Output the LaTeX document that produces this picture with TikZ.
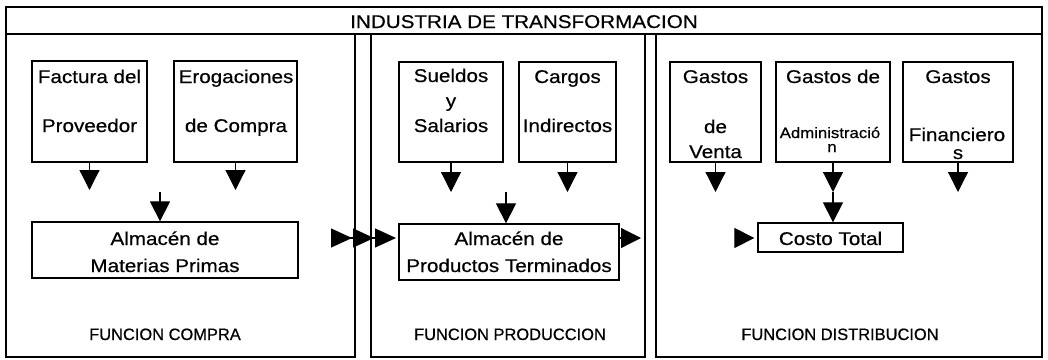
\documentclass[tikz,border=0pt]{standalone}
\usepackage{fontspec}
\setmainfont{Liberation Sans}[FakeStretch=1.12, FakeBold=0.5]
\newfontfamily\labfont{Liberation Sans}[FakeBold=0.6]
\usetikzlibrary{arrows.meta}
\begin{document}
\begin{tikzpicture}[x=1bp,y=-1bp,
  frame/.style={draw, line width=1.4bp},
  box/.style={draw, line width=1.3bp, inner sep=0, rectangle},
  txt/.style={inner sep=0, anchor=base, font=\fontsize{18.5}{20}\selectfont},
  smalltxt/.style={inner sep=0, anchor=base, font=\fontsize{15}{16}\selectfont},
  labtxt/.style={inner sep=0, anchor=base, font=\labfont\fontsize{16.5}{18}\selectfont},
  tri/.style={line width=1.2bp, -{Triangle[length=20bp,width=20bp]}},
  tritwo/.style={line width=1.2bp, shorten <=36bp, shorten >=2bp, -{Triangle[length=21bp,width=19bp,sep=1bp] Triangle[length=21bp,width=19bp,sep=1bp] Triangle[length=21bp,width=19bp,sep=1bp]}}
]
\useasboundingbox (0,0) rectangle (1048,359);
% frame
\node[frame, minimum width=1036bp, minimum height=27bp, inner sep=0] (title) at (524,20.5) {};
\node[frame, minimum width=349bp, minimum height=323bp, inner sep=0] (col1) at (180.5,195.5) {};
\node[frame, minimum width=274bp, minimum height=323bp, inner sep=0] (col2) at (508,195.5) {};
\node[frame, minimum width=386bp, minimum height=323bp, inner sep=0] (col3) at (849,195.5) {};
\node[txt] (titletxt) at (524,28) {INDUSTRIA DE TRANSFORMACION};
% column labels
\node[labtxt] (lab1) at (165,340) {FUNCION COMPRA};
\node[labtxt] (lab2) at (510,340) {FUNCION PRODUCCION};
\node[labtxt] (lab3) at (840,340) {FUNCION DISTRIBUCION};
% top boxes
\node[box, minimum width=115bp, minimum height=101bp] (fp) at (89.5,111.5) {};
\node[box, minimum width=123bp, minimum height=101bp] (ec) at (235.5,111.5) {};
\node[box, minimum width=104bp, minimum height=100bp] (sy) at (451,112) {};
\node[box, minimum width=97bp, minimum height=100bp] (ci) at (567.5,112) {};
\node[box, minimum width=91bp, minimum height=100bp] (gv) at (715.5,112) {};
\node[box, minimum width=114bp, minimum height=100bp] (ga) at (833,112) {};
\node[box, minimum width=110bp, minimum height=100bp] (gf) at (958,112) {};
% lower boxes
\node[box, minimum width=266bp, minimum height=56bp] (mp) at (165,250) {};
\node[box, minimum width=220bp, minimum height=56bp] (pt) at (509,252) {};
\node[box, minimum width=145bp, minimum height=29bp] (ct) at (830.5,237.5) {};
% texts
\node[txt] (fp1) at (89.5,83) {Factura del};
\node[txt] (fp2) at (89.5,132) {Proveedor};
\node[txt] (ec1) at (236,83) {Erogaciones};
\node[txt] (ec2) at (236,132) {de Compra};
\node[txt] (sy1) at (451,82) {Sueldos};
\node[txt] (sy2) at (451,107) {y};
\node[txt] (sy3) at (451,132) {Salarios};
\node[txt] (ci1) at (567.5,83) {Cargos};
\node[txt] (ci2) at (567.5,132) {Indirectos};
\node[txt] (gv1) at (715.5,83) {Gastos};
\node[txt] (gv2) at (715.5,133) {de};
\node[txt] (gv3) at (715.5,158) {Venta};
\node[txt] (ga1) at (833,83) {Gastos de};
\node[smalltxt] (ga2) at (830,138) {Administració};
\node[smalltxt] (ga3) at (832,152) {n};
\node[txt] (gf1) at (958,83) {Gastos};
\node[txt] (gf2) at (957,141) {Financiero};
\node[txt] (gf3) at (958,159) {s};
\node[txt] (mp1) at (165,245) {Almacén de};
\node[txt] (mp2) at (165,272) {Materias Primas};
\node[txt] (pt1) at (509,245) {Almacén de};
\node[txt] (pt2) at (509,272) {Productos Terminados};
\node[txt] (ct1) at (830.5,245) {Costo Total};
% coordinates
\coordinate (fpe) at (89.5,190);
\coordinate (ece) at (235.5,190);
\coordinate (sye) at (451,192);
\coordinate (cie) at (567.5,192);
\coordinate (gve) at (715.5,192);
\coordinate (gae) at (833,192);
\coordinate (gfe) at (958,192);
\coordinate (cmp) at (160,192);
\coordinate (cpt) at (506,192);
\coordinate (mpo) at (298,238);
\coordinate (pti) at (399,238);
\coordinate (pto) at (641,238);
\coordinate (cti) at (735,238);
% connectors
\draw[tri] (fp.south) -- (fpe);
\draw[tri] (ec.south) -- (ece);
\draw[tri] (sy.south) -- (sye);
\draw[tri] (ci.south) -- (cie);
\draw[tri] (gv.south) -- (gve);
\draw[tri] (ga.south) -- (gae);
\draw[tri] (gf.south) -- (gfe);
\draw[tri] (cmp) -- (cmp |- mp.north);
\draw[tri] (cpt) -- (cpt |- pt.north);
\draw[tri] (gae) -- (gae |- ct.north);
\draw[tritwo] (mpo) -- (pti);
\draw[tri] (pt.east |- pto) -- (pto);
\draw[tri, shorten >=3bp] (cti) -- (ct.west |- cti);
\end{tikzpicture}
\end{document}
